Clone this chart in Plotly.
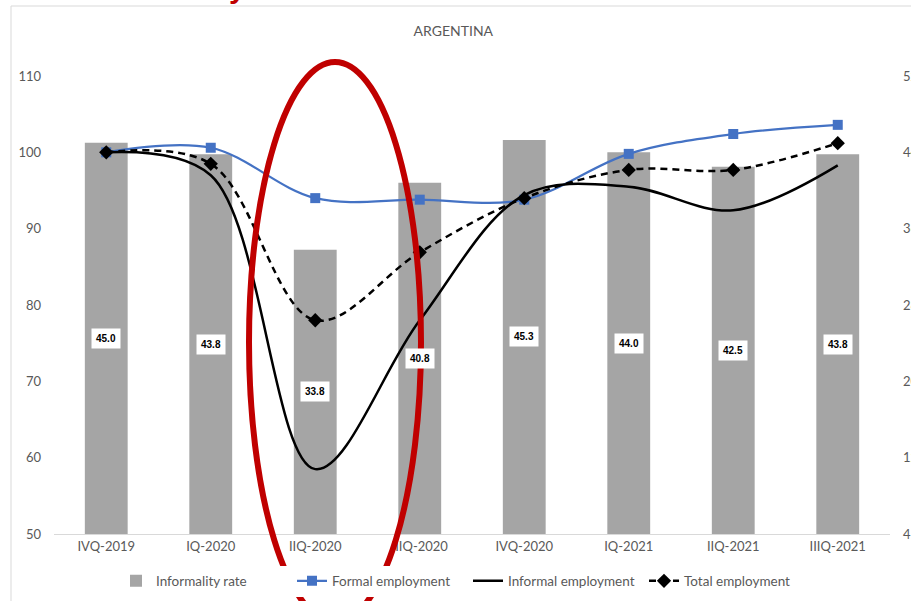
import plotly.graph_objects as go

# Quarterly series
quarters = ["IVQ-2019", "IQ-2020", "IIQ-2020", "IIIQ-2020",
            "IVQ-2020", "IQ-2021", "IIQ-2021", "IIIQ-2021"]
informality_rate = [45.0, 43.8, 33.8, 40.8, 45.3, 44.0, 42.5, 43.8]
formal_employment = [100.0, 100.6, 94.0, 93.8, 93.8, 99.8, 102.4, 103.6]
informal_employment = [100.0, 97.0, 58.5, 78.0, 94.4, 95.5, 92.4, 98.3]
total_employment = [100.0, 98.5, 78.0, 86.9, 94.0, 97.7, 97.7, 101.2]

rate_range = [4, 52]
index_range = [50, 110]

FONT = "Lato"
GREY_TXT = "#595959"

# Plot area in pixels (for placing paper-referenced shapes)
W, H = 911, 601
L, R, T, B = 54, 890, 76, 534


def px_x(x):
    return (x - L) / (R - L)


def px_y(y):
    return (B - y) / (B - T)


fig = go.Figure()

fig.add_trace(go.Bar(
    x=quarters, y=informality_rate, name="Informality rate",
    marker=dict(color="#A5A5A5", line=dict(width=0)),
    yaxis="y",
))
fig.add_trace(go.Scatter(
    x=quarters, y=formal_employment, name="Formal employment",
    mode="lines+markers", yaxis="y2",
    line=dict(color="#4472C4", width=2.25, shape="spline", smoothing=1),
    marker=dict(symbol="square", size=10, color="#4472C4"),
))
fig.add_trace(go.Scatter(
    x=quarters, y=informal_employment, name="Informal employment",
    mode="lines", yaxis="y2",
    line=dict(color="#000000", width=2.5, shape="spline", smoothing=1),
))
fig.add_trace(go.Scatter(
    x=quarters, y=total_employment, name="Total employment",
    mode="lines+markers", yaxis="y2",
    line=dict(color="#000000", width=2.5, dash="7px,5px", shape="spline", smoothing=1),
    marker=dict(symbol="diamond", size=11, color="#000000"),
))

annotations = []
# Value labels in the middle of each visible bar
for q, v in zip(quarters, informality_rate):
    annotations.append(dict(
        x=q, y=(rate_range[0] + v) / 2, xref="x", yref="y",
        text=f"<b>{v:.1f}</b>", showarrow=False,
        font=dict(family="Arial", size=10, color="#000000"),
        bgcolor="#FFFFFF", borderpad=4,
    ))
# Red heading above the chart; only the tail of its letter reaches the top edge
annotations.append(dict(
    x=px_x(237), y=px_y(-31), xref="paper", yref="paper",
    text="<b>y</b>", showarrow=False, xanchor="center", yanchor="top",
    font=dict(family="Liberation Sans", size=30, color="#C00000"),
))

shapes = [
    # chart frame
    dict(type="rect", xref="paper", yref="paper",
         x0=px_x(11), x1=px_x(W + 40), y0=px_y(H + 40), y1=px_y(6),
         line=dict(color="#D9D9D9", width=1), fillcolor="rgba(0,0,0,0)", layer="below"),
    # red ellipse highlight
    dict(type="circle", xref="paper", yref="paper",
         x0=px_x(249), x1=px_x(421), y0=px_y(622), y1=px_y(62),
         line=dict(color="#C00000", width=6), layer="above"),
]

fig.update_layout(
    width=W, height=H,
    margin=dict(l=L, r=W - R, t=T, b=H - B, autoexpand=False),
    paper_bgcolor="#FFFFFF", plot_bgcolor="#FFFFFF",
    font=dict(family=FONT, size=13, color=GREY_TXT),
    title=dict(text="ARGENTINA", x=px_x(470), xanchor="center",
               y=1 - 31 / H, yanchor="middle",
               font=dict(family=FONT, size=14, color=GREY_TXT)),
    bargap=0.59,
    showlegend=True,
    legend=dict(orientation="h", x=px_x(116), xanchor="left",
                y=px_y(581), yanchor="middle",
                font=dict(family=FONT, size=13.5, color=GREY_TXT),
                itemwidth=30, entrywidth=131, entrywidthmode="pixels"),
    xaxis=dict(showgrid=False, showline=True, linecolor="#D9D9D9", linewidth=1,
               ticks="", tickfont=dict(size=13, color=GREY_TXT), zeroline=False,
               automargin=False),
    yaxis=dict(range=rate_range, dtick=8, tick0=4, side="right",
               showgrid=False, zeroline=False, showline=False, automargin=False,
               ticklabelstandoff=12, tickfont=dict(size=13, color=GREY_TXT)),
    yaxis2=dict(range=index_range, dtick=10, side="left", overlaying="y",
                showgrid=False, zeroline=False, showline=False, automargin=False,
                ticklabelstandoff=12, tickfont=dict(size=13, color=GREY_TXT)),
    annotations=annotations,
    shapes=shapes,
)

fig.write_html("out.html")
